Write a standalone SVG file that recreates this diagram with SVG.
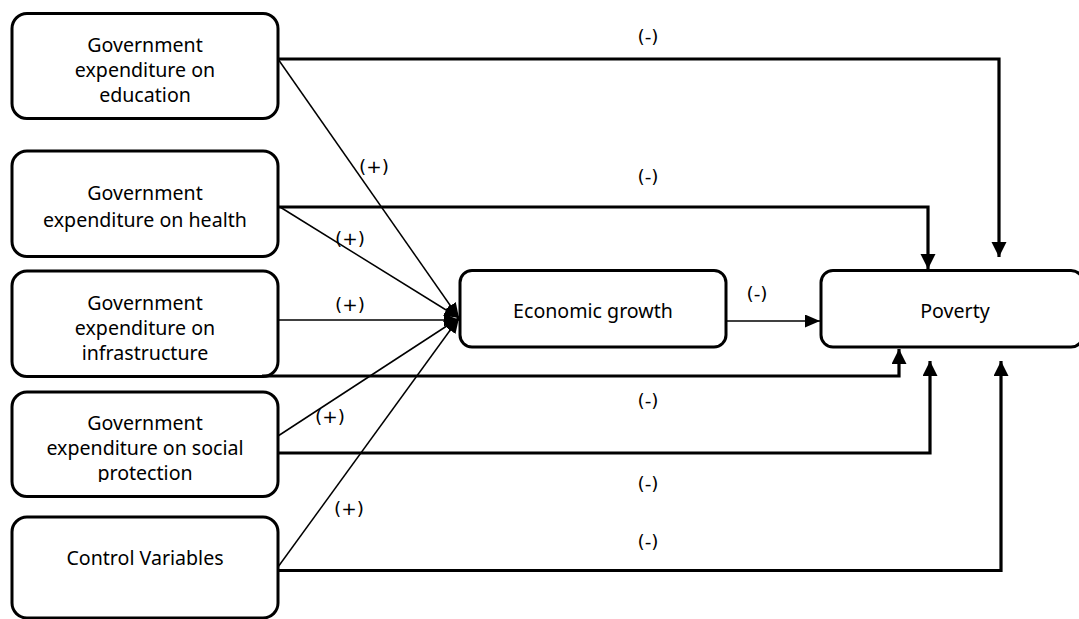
<svg xmlns="http://www.w3.org/2000/svg" width="1079" height="619" viewBox="0 0 1079 619">
<style>
.box{fill:#fff;stroke:#000;stroke-width:3}
.t{font-family:"Noto Sans","DejaVu Sans",sans-serif;font-size:19.6px;fill:#000;text-anchor:middle}
.l{font-family:"DejaVu Sans",Verdana,sans-serif;font-size:18.5px;fill:#000;text-anchor:middle}
.thin{fill:none;stroke:#000;stroke-width:1.5}
.thick{fill:none;stroke:#000;stroke-width:3.2}
</style>
<defs>
<marker id="ah" markerUnits="userSpaceOnUse" markerWidth="16" markerHeight="16" refX="15" refY="7.5" orient="auto">
<path d="M0,0 L15,7.5 L0,15 Z" fill="#000"/>
</marker>
<marker id="ahs" markerUnits="userSpaceOnUse" markerWidth="16" markerHeight="14" refX="15" refY="6.5" orient="auto">
<path d="M0,0 L15,6.5 L0,13 Z" fill="#000"/>
</marker>
<clipPath id="c4"><rect x="12" y="392" width="266" height="90"/></clipPath>
</defs>

<g id="n-edu">
<rect class="box" x="12" y="13.5" width="266" height="105" rx="15"/>
<text class="t" x="145" y="52">Government</text>
<text class="t" x="145" y="77">expenditure on</text>
<text class="t" x="145" y="101.5">education</text>
</g>
<g id="n-health">
<rect class="box" x="12" y="151" width="266" height="105.5" rx="15"/>
<text class="t" x="145" y="200">Government</text>
<text class="t" x="145" y="226.5">expenditure on health</text>
</g>
<g id="n-infra">
<rect class="box" x="12" y="271" width="266" height="105.5" rx="15"/>
<text class="t" x="145" y="309.5">Government</text>
<text class="t" x="145" y="335">expenditure on</text>
<text class="t" x="145" y="359.5">infrastructure</text>
</g>
<g id="n-social">
<rect class="box" x="12" y="392" width="266" height="104.5" rx="15"/>
<g clip-path="url(#c4)">
<text class="t" x="145" y="430">Government</text>
<text class="t" x="145" y="455">expenditure on social</text>
<text class="t" x="145" y="480">protection</text>
</g>
</g>
<g id="n-control">
<rect class="box" x="12" y="517" width="266" height="101" rx="15"/>
<text class="t" x="145" y="565">Control Variables</text>
</g>
<g id="n-growth">
<rect class="box" x="460" y="270.5" width="266" height="76.5" rx="12"/>
<text class="t" x="593" y="318">Economic growth</text>
</g>
<g id="n-poverty">
<rect class="box" x="821" y="270.5" width="262" height="76.5" rx="12"/>
<text class="t" x="955" y="318">Poverty</text>
</g>

<g id="connectors">
<path class="thin" d="M278,59 L459,318" marker-end="url(#ahs)"/>
<path class="thin" d="M280,207 L459,318" marker-end="url(#ahs)"/>
<path class="thin" d="M278,320 L459,320" marker-end="url(#ahs)"/>
<path class="thin" d="M278,436 L459,318" marker-end="url(#ahs)"/>
<path class="thin" d="M278,567 L459,318" marker-end="url(#ahs)"/>
<path class="thin" d="M726,321 L820,321" marker-end="url(#ahs)"/>

<path class="thick" d="M278,59 H999 V257" marker-end="url(#ah)"/>
<path class="thick" d="M278,207 H928 V269" marker-end="url(#ah)"/>
<path class="thick" d="M262,376 H899 V349" marker-end="url(#ah)"/>
<path class="thick" d="M278,453 H930 V361" marker-end="url(#ah)"/>
<path class="thick" d="M278,570.5 H1001 V361" marker-end="url(#ah)"/>
</g>

<g id="labels">
<text class="l" x="648" y="43">(-)</text>
<text class="l" x="648" y="183">(-)</text>
<text class="l" x="374" y="173">(+)</text>
<text class="l" x="350" y="245">(+)</text>
<text class="l" x="350" y="311">(+)</text>
<text class="l" x="757" y="300">(-)</text>
<text class="l" x="648" y="407">(-)</text>
<text class="l" x="330" y="423">(+)</text>
<text class="l" x="648" y="490">(-)</text>
<text class="l" x="349" y="515">(+)</text>
<text class="l" x="648" y="548">(-)</text>
</g>
</svg>
